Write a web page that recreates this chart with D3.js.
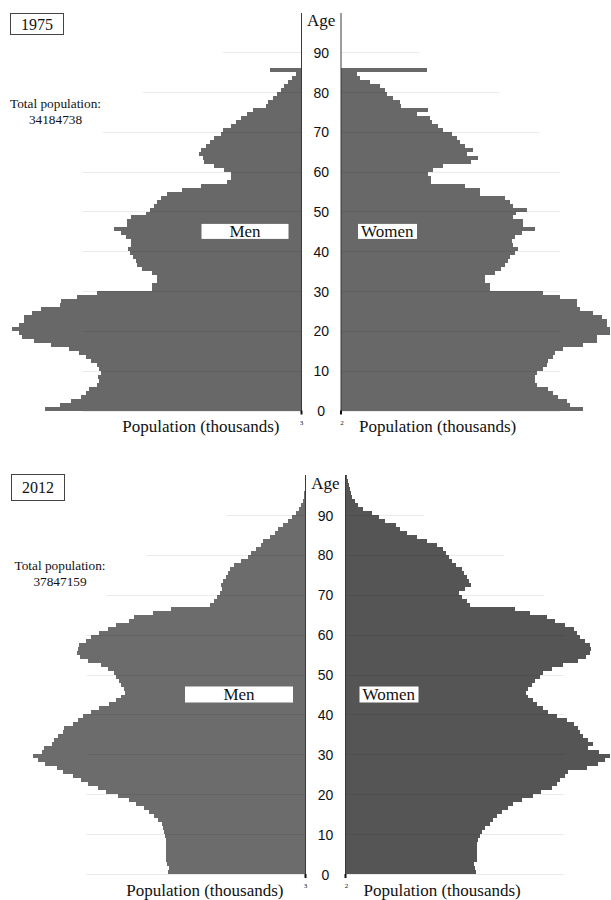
<!DOCTYPE html>
<html lang="en">
<head>
    <meta charset="UTF-8">
    <title>Population pyramids 1975 / 2012</title>
    <script src="https://cdnjs.cloudflare.com/ajax/libs/d3/7.8.5/d3.min.js"></script>
    <style>
        body { margin: 0; background: #fff; }
        svg { display: block; }
        .serif { font-family: "Liberation Serif", "Times New Roman", serif; fill: #111; }
        .age-tick text { font-family: "Liberation Sans", Arial, sans-serif; font-size: 14px; fill: #111; }
        .axis-line { stroke: #3a3a3a; stroke-width: 1px; }
        .grid { stroke: #000; stroke-opacity: 0.08; stroke-width: 1px; }
    </style>
</head>
<body>
<svg width="611" height="900"></svg>
<script>
    // population by single year of age (thousands), index = age
    const men1975 = [257, 242, 231, 221, 216, 213, 205, 203, 204, 201,
                     203, 205, 211, 216, 223, 233, 251, 268, 280, 283,
                     290, 283, 278, 278, 270, 261, 242, 241, 225, 205,
                     150, 150, 145, 145, 150, 160, 165, 166, 169, 172,
                     174, 171, 171, 176, 181, 188, 175, 175, 171, 156,
                     152, 148, 145, 141, 135, 120, 101, 75, 71, 71,
                     78, 88, 98, 99, 103, 101, 96, 92, 88, 81,
                     79, 71, 66, 61, 55, 49, 36, 34, 29, 25,
                     21, 18, 14, 10, 6, 32];
    const women1975 = [242, 229, 226, 217, 212, 207, 196, 194, 194, 196,
                       202, 206, 207, 212, 214, 222, 242, 256, 256, 269,
                       269, 266, 266, 261, 252, 239, 236, 236, 219, 202,
                       149, 149, 144, 144, 154, 160, 164, 167, 169, 174,
                       177, 172, 171, 174, 181, 194, 182, 182, 172, 175,
                       186, 172, 169, 164, 139, 139, 124, 90, 90, 87,
                       92, 102, 130, 137, 126, 132, 124, 119, 116, 111,
                       102, 97, 91, 89, 76, 87, 60, 59, 52, 46,
                       44, 39, 29, 19, 16, 86];
    const men2012 = [138, 137, 139, 140, 140, 140, 140, 140, 140, 141,
                     142, 143, 144, 148, 152, 157, 162, 170, 177, 188,
                     200, 208, 218, 225, 233, 243, 249, 261, 268, 273,
                     264, 262, 254, 252, 248, 243, 242, 233, 228, 223,
                     215, 207, 197, 190, 185, 181, 182, 185, 187, 190,
                     192, 198, 205, 218, 226, 229, 228, 227, 220, 215,
                     207, 198, 190, 177, 172, 153, 135, 96, 92, 89,
                     86, 84, 85, 83, 80, 78, 76, 72, 65, 58,
                     55, 50, 45, 43, 36, 31, 28, 23, 18, 14,
                     10, 7, 5, 3, 2, 1.5, 1, 0.6, 0.4, 0.2];
    const women2012 = [130, 129, 128, 131, 131, 131, 131, 131, 132, 134,
                       136, 139, 144, 147, 151, 156, 162, 167, 176, 187,
                       195, 206, 211, 214, 219, 222, 241, 252, 259, 264,
                       253, 242, 247, 242, 237, 234, 232, 228, 221, 211,
                       202, 197, 191, 187, 182, 180, 182, 186, 189, 194,
                       197, 206, 217, 232, 240, 244, 245, 244, 239, 234,
                       231, 228, 219, 209, 201, 184, 169, 124, 121, 116,
                       113, 119, 125, 123, 121, 118, 116, 110, 106, 103,
                       100, 97, 91, 81, 71, 61, 54, 50, 39, 33,
                       26, 17, 12, 9, 6, 5, 4, 3, 2, 1.5];

    const years = ["1975", "2012"];
    const totals = ["34184738", "37847159"];
    const ageTicks = [0, 10, 20, 30, 40, 50, 60, 70, 80, 90];
    // how far each age gridline reaches from the axis (thousands)
    const gridReach = [219, 219, 219, 219, 219, 219, 219, 199, 159, 79];

    const svg = d3.select("svg");

    const panels = [
        { year: years[0], total: totals[0], men: men1975, women: women1975,
          top: 13, y0: 410.5, y90: 52.3, axisL: 301.5, axisR: 341,
          menFill: "#686868", womenFill: "#686868",
          yearBox: [10.5, 13.5, 53, 21], totalY: 108, totalX: 55.5,
          menBox: [201.5, 288.5], womenBox: [358, 417], boxH: 15,
          ageY: 26, titleY: 432 },
        { year: years[1], total: totals[1], men: men2012, women: women2012,
          top: 475, y0: 874, y90: 515, axisL: 305.5, axisR: 345.5,
          menFill: "#6c6c6c", womenFill: "#555555",
          yearBox: [11.5, 474.5, 53, 26], totalY: 570, totalX: 60,
          menBox: [185, 293], womenBox: [359.5, 418.5], boxH: 16,
          ageY: 489, titleY: 896 }
    ];

    function drawPyramid(p) {
        const g = svg.append("g");
        const y = d3.scaleLinear().domain([0, 90]).range([p.y0, p.y90]);
        const x = d3.scaleLinear().domain([0, 300]).range([0, 300]);

        // bars
        g.selectAll("rect.men").data(p.men).join("rect")
            .attr("class", "men")
            .attr("x", d => p.axisL - x(d))
            .attr("y", (d, i) => y(i + 1))
            .attr("width", d => x(d))
            .attr("height", (d, i) => y(i) - y(i + 1))
            .attr("fill", p.menFill)
            .attr("shape-rendering", "crispEdges");

        g.selectAll("rect.women").data(p.women).join("rect")
            .attr("class", "women")
            .attr("x", p.axisR)
            .attr("y", (d, i) => y(i + 1))
            .attr("width", d => x(d))
            .attr("height", (d, i) => y(i) - y(i + 1))
            .attr("fill", p.womenFill)
            .attr("shape-rendering", "crispEdges");

        // gridlines
        g.selectAll("line.gl").data(ageTicks).join("line")
            .attr("class", "grid gl")
            .attr("x1", (d, i) => p.axisL - x(gridReach[i])).attr("x2", p.axisL)
            .attr("y1", d => Math.round(y(d)) + 0.5).attr("y2", d => Math.round(y(d)) + 0.5);
        g.selectAll("line.gr").data(ageTicks).join("line")
            .attr("class", "grid gr")
            .attr("x1", p.axisR).attr("x2", (d, i) => p.axisR + x(gridReach[i]))
            .attr("y1", d => Math.round(y(d)) + 0.5).attr("y2", d => Math.round(y(d)) + 0.5);

        // central axis lines
        [p.axisL, p.axisR].forEach(ax => {
            g.append("line").attr("class", "axis-line")
                .attr("x1", ax).attr("x2", ax)
                .attr("y1", p.top).attr("y2", p.y0 + 1);
            g.append("line")
                .attr("x1", ax).attr("x2", ax)
                .attr("y1", p.y0).attr("y2", p.y0 + 4)
                .attr("stroke", "#111").attr("stroke-width", 2);
        });
        g.append("text").attr("x", p.axisL).attr("y", p.y0 + 14)
            .attr("text-anchor", "middle").attr("class", "serif")
            .style("font-size", "7px").text("3");
        g.append("text").attr("x", p.axisR + 1).attr("y", p.y0 + 14)
            .attr("text-anchor", "middle").attr("class", "serif")
            .style("font-size", "7px").text("2");

        // age labels between the two halves
        const mid = (p.axisL + p.axisR) / 2;
        const ageAxis = g.append("g")
            .attr("class", "age-tick")
            .attr("transform", `translate(${mid},0)`)
            .call(d3.axisLeft(y).tickValues(ageTicks).tickSize(0).tickFormat(d3.format("d")));
        ageAxis.select(".domain").remove();
        ageAxis.selectAll("text")
            .attr("x", 0).attr("dy", "0.36em")
            .attr("text-anchor", "middle")
            .attr("fill", "#111");

        g.append("text").attr("class", "serif")
            .attr("x", mid).attr("y", p.ageY)
            .attr("text-anchor", "middle")
            .style("font-size", "17px").text("Age");

        // year box
        const [bx, by, bw, bh] = p.yearBox;
        g.append("rect").attr("x", bx).attr("y", by).attr("width", bw).attr("height", bh)
            .attr("fill", "#fff").attr("stroke", "#444");
        g.append("text").attr("class", "serif")
            .attr("x", bx + bw / 2).attr("y", by + bh / 2 + 5.5)
            .attr("text-anchor", "middle")
            .style("font-size", "16px").text(p.year);

        // total population
        g.append("text").attr("class", "serif")
            .attr("x", p.totalX).attr("y", p.totalY)
            .attr("text-anchor", "middle")
            .style("font-size", "13.3px").text("Total population:");
        g.append("text").attr("class", "serif")
            .attr("x", p.totalX).attr("y", p.totalY + 16)
            .attr("text-anchor", "middle")
            .style("font-size", "13.3px").text(p.total);

        // Men / Women labels
        const ly = y(45);
        g.append("rect")
            .attr("x", p.menBox[0]).attr("y", ly - p.boxH / 2)
            .attr("width", p.menBox[1] - p.menBox[0]).attr("height", p.boxH)
            .attr("fill", "#fff");
        g.append("text").attr("class", "serif")
            .attr("x", (p.menBox[0] + p.menBox[1]) / 2).attr("y", ly + 5.5)
            .attr("text-anchor", "middle")
            .style("font-size", "17px").text("Men");
        g.append("rect")
            .attr("x", p.womenBox[0]).attr("y", ly - p.boxH / 2)
            .attr("width", p.womenBox[1] - p.womenBox[0]).attr("height", p.boxH)
            .attr("fill", "#fff");
        g.append("text").attr("class", "serif")
            .attr("x", p.womenBox[0] + 3).attr("y", ly + 5.5)
            .style("font-size", "17px").text("Women");

        // x axis titles
        g.append("text").attr("class", "serif")
            .attr("x", p.axisL - 22).attr("y", p.titleY)
            .attr("text-anchor", "end")
            .style("font-size", "17px").text("Population (thousands)");
        g.append("text").attr("class", "serif")
            .attr("x", p.axisR + 18).attr("y", p.titleY)
            .style("font-size", "17px").text("Population (thousands)");
    }

    panels.forEach(drawPyramid);
</script>
</body>
</html>
